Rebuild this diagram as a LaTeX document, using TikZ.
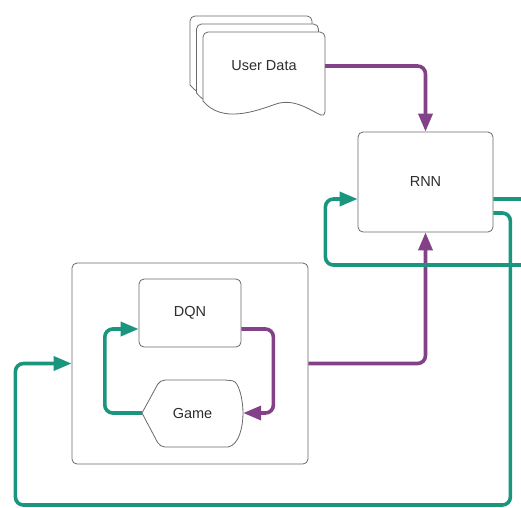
\documentclass[tikz,border=0pt]{standalone}
\usepackage{fontspec}
\setmainfont{Liberation Sans}
\usetikzlibrary{arrows.meta, positioning}
\definecolor{flowpurple}{RGB}{131,65,135}
\definecolor{flowgreen}{RGB}{25,150,125}
\definecolor{boxgray}{RGB}{105,105,105}
\definecolor{txtgray}{RGB}{45,45,45}

\begin{document}
\begin{tikzpicture}[x=1pt, y=-1pt,
        box/.style={draw=boxgray, line width=0.8pt, rounded corners=5pt, fill=white},
        lbl/.style={text=txtgray, font=\fontsize{14.5}{17}\selectfont},
        flow/.style={line width=3.6pt, rounded corners=8pt, -{Triangle[length=18pt, width=14pt]}},
        pflow/.style={flow, draw=flowpurple},
        gflow/.style={flow, draw=flowgreen}]
                        \useasboundingbox (0,0) rectangle (521,507);
                        \clip (0,0) rectangle (521,507);

                        \foreach \dx/\dy in {-13/-16, -6.5/-8, 0/0}
                            \draw[box] (203+\dx,101+\dy) -- (203+\dx,32+\dy) -- (325+\dx,32+\dy) -- (325+\dx,117+\dy) [sharp corners]
                            .. controls (310+\dx,110+\dy) and (294+\dx,98+\dy) .. (276+\dx,104+\dy)
                            .. controls (256+\dx,111+\dy) and (222+\dx,124+\dy) .. cycle;

                        \node[lbl, minimum width=122pt] (ud) at (264,66) {User Data};
                        \node[box, lbl, minimum width=135pt, minimum height=100pt] (rnn) at (425.5,182) {RNN};
                        \node[box, minimum width=236pt, minimum height=201pt] (agt) at (190,363.5) {};
                        \node[box, lbl, minimum width=102pt, minimum height=68pt] (dqn) at (190,313) {DQN};
                        \draw[box] (142,413) -- (160,380) -- (228,380) [sharp corners]
                            .. controls (239,382) and (243,400) .. (243,413)
                            .. controls (243,427) and (239,445) .. (228,447) [rounded corners=5pt] -- (160,447) [sharp corners] -- cycle;
                        \node[lbl, minimum width=101pt, minimum height=67pt] (gm) at (192.5,413) {Game};

                        \draw[pflow] (ud.east) -| (rnn.north);
                        \draw[pflow] (agt.east) -| (rnn.south);
                        \draw[pflow] ([yshift=-16pt]dqn.east) -- ++(32,0) |- (gm.east);
                        \draw[gflow] (gm.west) -- ++(-37,0) |- ([yshift=-16pt]dqn.west);
                        \draw[gflow] ([yshift=-17pt]rnn.east) -- ++(45,0) -- ++(0,66) -- ++(-213,0) |- ([yshift=-17pt]rnn.west);
                        \draw[gflow] ([yshift=-31pt]rnn.east) -- ++(17,0) -- ++(0,292) -- ++(-495,0) |- (agt.west);
                    \end{tikzpicture}
\end{document}
